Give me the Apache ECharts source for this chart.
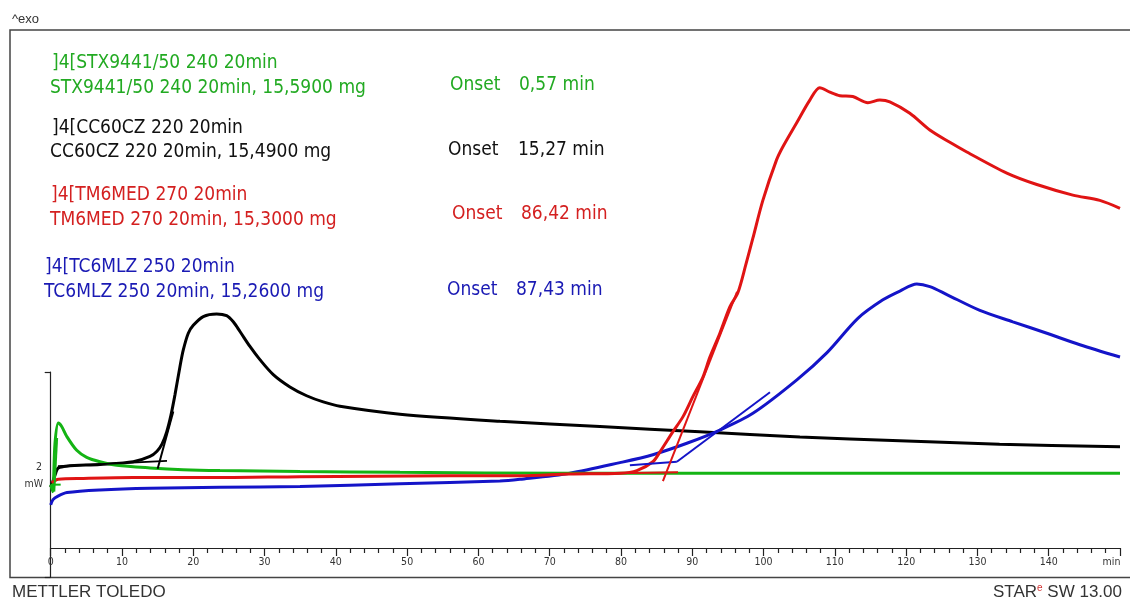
<!DOCTYPE html>
<html>
<head>
<meta charset="utf-8">
<script src="https://cdn.jsdelivr.net/npm/echarts@6/dist/echarts.min.js"></script>
<style>
  html, body { margin: 0; padding: 0; background: #ffffff; }
  #chart { width: 1130px; height: 601px; }
</style>
</head>
<body>
<div id="chart"></div>
<script>
// DSC heat-flow curves, time in min, heat flow in mW (exo up)
const stxCurve = [
  [0, 0.72], [0.28, 0.64], [0.60, 1.19], [1.07, 1.42], [1.54, 1.38], [2.24, 1.27],
  [3.65, 1.11], [5.05, 1.03], [6.91, 0.98], [9.26, 0.94], [13.93, 0.91], [18.56, 0.89],
  [23.74, 0.88], [34.97, 0.87], [48.99, 0.86], [72.83, 0.85], [105.1, 0.85], [150, 0.85]
];
const ccCurve = [
  [0, 0.69], [0.36, 0.77], [0.74, 0.86], [1.07, 0.91], [2.24, 0.93], [6.91, 0.95],
  [11.58, 0.98], [13.93, 1.04], [14.91, 1.10], [15.61, 1.18], [16.27, 1.32], [16.87, 1.51],
  [17.43, 1.74], [18.13, 2.06], [18.60, 2.25], [19.30, 2.44], [20.00, 2.53], [21.40, 2.63],
  [23.28, 2.66], [24.68, 2.64], [25.61, 2.57], [26.55, 2.46], [27.95, 2.29], [29.35, 2.14],
  [31.22, 1.97], [33.56, 1.83], [35.90, 1.73], [38.23, 1.66], [40.57, 1.61], [48.99, 1.52],
  [63.01, 1.44], [77.04, 1.38], [91.07, 1.32], [105.1, 1.26], [119.1, 1.22], [133.1, 1.18],
  [150, 1.15]
];
const tmCurve = [
  [0.14, 0.74], [1.07, 0.78], [4.57, 0.79], [11.58, 0.80], [23.74, 0.80], [34.97, 0.81],
  [56.01, 0.82], [65.8, 0.82], [72.83, 0.84], [79.85, 0.85], [82.23, 0.88], [84.47, 0.98],
  [85.45, 1.09], [87.27, 1.32], [88.68, 1.49], [90.08, 1.72], [91.48, 1.94], [92.47, 2.17],
  [93.87, 2.44], [95.27, 2.74], [96.39, 2.90], [97.51, 3.22], [98.50, 3.52], [99.90, 3.95],
  [101.82, 4.41], [102.71, 4.56], [104.63, 4.83], [106.49, 5.09], [107.89, 5.23], [109.30, 5.18],
  [110.70, 5.14], [112.52, 5.13], [114.63, 5.06], [116.31, 5.09], [117.71, 5.07], [120.52, 4.94],
  [123.32, 4.75], [126.13, 4.61], [128.51, 4.50], [134.12, 4.26], [138.33, 4.13], [143.38, 4.01],
  [147.17, 3.95], [150, 3.86]
];
const tcCurve = [
  [0, 0.49], [0.32, 0.55], [1.02, 0.59], [2.29, 0.63], [6.91, 0.66], [13.93, 0.68],
  [23.74, 0.69], [34.97, 0.70], [48.99, 0.73], [63.01, 0.76], [65.82, 0.78], [72.83, 0.85],
  [79.85, 0.97], [84.47, 1.06], [89.24, 1.19], [93.87, 1.34], [98.5, 1.53], [104.67, 1.91],
  [108.9, 2.22], [113.23, 2.61], [116.74, 2.82], [119.12, 2.92], [121.5, 3.00], [123.33, 2.97],
  [125.71, 2.88], [130.34, 2.70], [134.97, 2.57], [139.74, 2.44], [144.37, 2.31], [150, 2.17]
];

// Onset construction lines (baseline tangent and inflection tangent) per sample
const stxTangents = [[[0, 0.72], [1.4, 0.72]], [[0.5, 0.64], [0.9, 1.25]]];
const ccTangents = [[[1.02, 0.93], [16.31, 0.99]], [[15.0, 0.90], [17.2, 1.55]]];
const tmTangents = [[[73.0, 0.84], [88.0, 0.86]], [[85.88, 0.76], [96.28, 2.91]]];
const tcTangents = [[[81.25, 0.94], [87.84, 0.98]], [[87.84, 0.98], [100.9, 1.77]]];

const sampleNames = ['STX9441/50 240 20min', 'CC60CZ 220 20min', 'TM6MED 270 20min', 'TC6MLZ 250 20min'];
const sampleMasses = ['15,5900', '15,4900', '15,3000', '15,2600'];
const onsetValues = ['0,57', '15,27', '86,42', '87,43'];
const xTickStep = 10;

const GREEN = '#14b414';
const BLACK = '#000000';
const RED = '#e01414';
const BLUE = '#1414c8';
const textColors = ['#22aa22', '#111111', '#d42020', '#1a1ab4'];

const TXT_FONT = "'DejaVu Sans Condensed', 'DejaVu Sans', sans-serif";
const ARIAL = "'Liberation Sans', Arial, sans-serif";

const chart = echarts.init(document.getElementById('chart'), null, { renderer: 'canvas' });

function curveSeries(data, color) {
  return {
    type: 'line', data: data, xAxisIndex: 0, yAxisIndex: 0,
    showSymbol: false, smooth: 0.3,
    lineStyle: { color: color, width: 3 }, silent: true, z: 3
  };
}
function tangentSeries(lines, color) {
  return lines.map(seg => ({
    type: 'line', data: seg, xAxisIndex: 0, yAxisIndex: 0,
    showSymbol: false, lineStyle: { color: color, width: 2 }, silent: true, z: 4
  }));
}

// sample header and onset texts
const headerY = [[63, 88], [128, 152], [195, 220], [267, 292]];
const headerX = [[52, 50], [52, 50], [51, 50], [45, 44]];
const onsetX = [[450, 519], [448, 518], [452, 521], [447, 516]];
const onsetY = [85, 150, 214, 290];
const LABEL_FONT = '19px ' + TXT_FONT;

const texts = [];
for (let i = 0; i < 4; i++) {
  texts.push({ type: 'text', x: headerX[i][0], y: headerY[i][0],
    style: { text: ']4[' + sampleNames[i], fill: textColors[i], font: LABEL_FONT, verticalAlign: 'middle' } });
  texts.push({ type: 'text', x: headerX[i][1], y: headerY[i][1],
    style: { text: sampleNames[i] + ', ' + sampleMasses[i] + ' mg', fill: textColors[i], font: LABEL_FONT, verticalAlign: 'middle' } });
  texts.push({ type: 'text', x: onsetX[i][0], y: onsetY[i],
    style: { text: 'Onset', fill: textColors[i], font: LABEL_FONT, verticalAlign: 'middle' } });
  texts.push({ type: 'text', x: onsetX[i][1], y: onsetY[i],
    style: { text: onsetValues[i] + ' min', fill: textColors[i], font: LABEL_FONT, verticalAlign: 'middle' } });
}

const option = {
  animation: false,
  backgroundColor: '#ffffff',
  grid: [
    { left: 50.7, right: 10, top: 30, bottom: 53 },
    // scale bar for the heat-flow axis
    { left: 50.7, width: 1, top: 372, height: 205 }
  ],
  xAxis: [
    {
      type: 'value', gridIndex: 0, min: 0, max: 150, interval: xTickStep,
      axisLine: { show: true, lineStyle: { color: '#222', width: 1.2 } },
      axisTick: { show: true, length: 8, lineStyle: { color: '#222', width: 1.2 } },
      minorTick: { show: true, splitNumber: 5, length: 5, lineStyle: { color: '#222', width: 1.2 } },
      splitLine: { show: false },
      axisLabel: {
        show: true, margin: 9, color: '#333', fontSize: 10.5, fontFamily: TXT_FONT,
        formatter: v => (v === 150 ? '{u|min}' : String(v)),
        rich: { u: { color: '#333', fontSize: 10.5, fontFamily: TXT_FONT, padding: [0, 17, 0, 0] } }
      }
    },
    { type: 'value', gridIndex: 1, show: false, min: 0, max: 1 }
  ],
  yAxis: [
    { type: 'value', gridIndex: 0, min: 0, max: 5.886, show: false },
    {
      type: 'value', gridIndex: 1, min: 0, max: 1, interval: 1,
      axisLine: { show: true, lineStyle: { color: '#222', width: 1.2 } },
      axisTick: { show: true, length: 6, lineStyle: { color: '#222', width: 1.2 } },
      axisLabel: { show: false }, splitLine: { show: false }
    }
  ],
  series: [
    curveSeries(ccCurve, BLACK),
    curveSeries(tcCurve, BLUE),
    curveSeries(stxCurve, GREEN),
    curveSeries(tmCurve, RED),
    ...tangentSeries(ccTangents, BLACK),
    ...tangentSeries(stxTangents, GREEN),
    ...tangentSeries(tcTangents, BLUE),
    ...tangentSeries(tmTangents, RED)
  ],
  graphic: [
    { type: 'rect', shape: { x: 10, y: 30, width: 1130, height: 547.5 },
      style: { fill: 'none', stroke: '#444', lineWidth: 1.5 }, silent: true, z: 0 },
    { type: 'text', x: 12, y: 19, style: { text: '^exo', fill: '#333', font: '13px ' + ARIAL, verticalAlign: 'middle' } },
    { type: 'text', x: 42, y: 467, style: { text: '2', fill: '#333', font: '10.5px ' + TXT_FONT, align: 'right', verticalAlign: 'middle' } },
    { type: 'text', x: 43, y: 484, style: { text: 'mW', fill: '#333', font: '10.5px ' + TXT_FONT, align: 'right', verticalAlign: 'middle' } },
    { type: 'text', x: 12, y: 592, style: { text: 'METTLER TOLEDO', fill: '#333', font: '17px ' + ARIAL, verticalAlign: 'middle' } },
    { type: 'text', x: 1122, y: 592, style: {
        text: '{a|STAR}{b|e}{a| SW 13.00}', align: 'right', verticalAlign: 'middle',
        rich: {
          a: { fill: '#333', font: '17px ' + ARIAL, lineHeight: 18 },
          b: { fill: '#d03030', font: '10px ' + ARIAL, verticalAlign: 'top', lineHeight: 18 }
        }
      } },
    ...texts
  ]
};

chart.setOption(option);
</script>
</body>
</html>
